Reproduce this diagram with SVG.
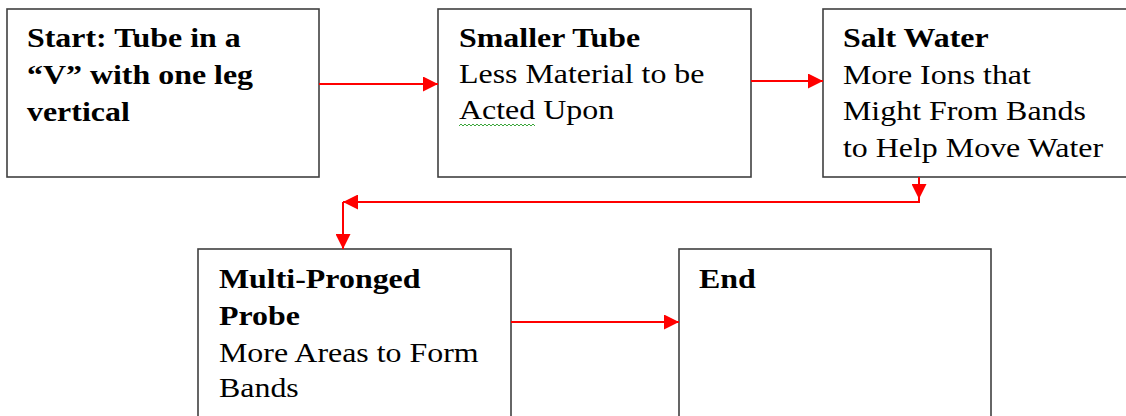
<svg xmlns="http://www.w3.org/2000/svg" width="1126" height="416" viewBox="0 0 1126 416">
<style>
.box{fill:#fff;stroke:#404040;stroke-width:1.6}
.t{font-family:"Liberation Serif","Times New Roman",serif;font-size:28px;fill:#000}
.b{font-weight:bold}
.c{fill:none;stroke:#ff0000;stroke-width:2}
</style>
<defs>
<marker id="ah" viewBox="0 0 15 15" refX="15" refY="7.5" markerWidth="15" markerHeight="15" markerUnits="userSpaceOnUse" orient="auto">
<path d="M0,0 L15,7.5 L0,15 Z" fill="#ff0000"/>
</marker>
</defs>
<rect width="1126" height="416" fill="#fff"/>
<g id="n1">
<rect class="box" x="7" y="9" width="312" height="168"/>
<g transform="translate(27,0) scale(1.14,1)">
<text class="t b" x="0" y="47">Start: Tube in a</text>
<text class="t b" x="0" y="84">“V” with one leg</text>
<text class="t b" x="0" y="121">vertical</text>
</g>
</g>
<g id="n2">
<rect class="box" x="438" y="9" width="313" height="168"/>
<g transform="translate(459,0) scale(1.14,1)">
<text class="t b" x="0" y="47">Smaller Tube</text>
<text class="t" x="0" y="83">Less Material to be</text>
<text class="t" x="0" y="119">Acted Upon</text>
</g>
<path d="M459,126 l2,-2 l2,2 l2,-2 l2,2 l2,-2 l2,2 l2,-2 l2,2 l2,-2 l2,2 l2,-2 l2,2 l2,-2 l2,2 l2,-2 l2,2 l2,-2 l2,2 l2,-2 l2,2 l2,-2 l2,2 l2,-2 l2,2 l2,-2 l2,2 l2,-2 l2,2 l2,-2 l2,2 l2,-2 l2,2 l2,-2 l2,2 l2,-2 l2,2 l2,-2 l2,2" fill="none" stroke="#3aa63a" stroke-width="1"/>
</g>
<g id="n3">
<rect class="box" x="823" y="9" width="310" height="168"/>
<g transform="translate(843,0) scale(1.14,1)">
<text class="t b" x="0" y="47">Salt Water</text>
<text class="t" x="0" y="84">More Ions that</text>
<text class="t" x="0" y="120">Might From Bands</text>
<text class="t" x="0" y="157">to Help Move Water</text>
</g>
</g>
<g id="n4">
<rect class="box" x="198" y="249" width="313" height="180"/>
<g transform="translate(219,0) scale(1.14,1)">
<text class="t b" x="0" y="288">Multi-Pronged</text>
<text class="t b" x="0" y="325">Probe</text>
<text class="t" x="0" y="362">More Areas to Form</text>
<text class="t" x="0" y="397">Bands</text>
</g>
</g>
<g id="n5">
<rect class="box" x="679" y="249" width="312" height="180"/>
<g transform="translate(699,0) scale(1.14,1)">
<text class="t b" x="0" y="288">End</text>
</g>
</g>
<g id="connectors">
<line class="c" x1="319" y1="84" x2="438" y2="84" marker-end="url(#ah)"/>
<line class="c" x1="751" y1="81" x2="823" y2="81" marker-end="url(#ah)"/>
<line class="c" x1="919" y1="177" x2="919" y2="199" marker-end="url(#ah)"/>
<polyline class="c" points="919,199 919,202 343,202"/>
<line class="c" x1="360" y1="202" x2="343" y2="202" marker-end="url(#ah)"/>
<line class="c" x1="343" y1="202" x2="343" y2="249" marker-end="url(#ah)"/>
<line class="c" x1="511" y1="322" x2="679" y2="322" marker-end="url(#ah)"/>
</g>
</svg>
